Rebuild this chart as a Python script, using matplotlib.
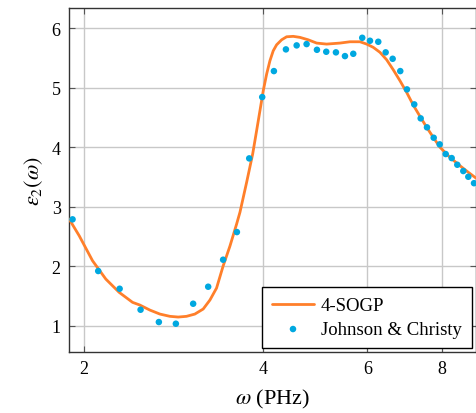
import matplotlib
matplotlib.use("Agg")
import matplotlib.pyplot as plt
from matplotlib.ticker import FixedLocator, FixedFormatter, NullLocator

plt.rcParams['font.family'] = ['Liberation Serif', 'DejaVu Serif']
plt.rcParams['mathtext.fontset'] = 'stix'

# Johnson & Christy data (omega in PHz, eps2)
jc_omega = [1.912, 2.112, 2.295, 2.489, 2.672, 2.854, 3.052, 3.235, 3.428, 3.616,
            3.793, 3.989, 4.174, 4.373, 4.559, 4.738, 4.932, 5.113, 5.309, 5.498,
            5.678, 5.879, 6.058, 6.256, 6.438, 6.615, 6.813, 6.992, 7.193, 7.374,
            7.557, 7.756, 7.938, 8.125, 8.316, 8.499, 8.699, 8.870, 9.068]
jc_eps2 = [2.789, 1.920, 1.622, 1.269, 1.062, 1.034, 1.370, 1.656, 2.110, 2.575,
           3.814, 4.845, 5.282, 5.647, 5.714, 5.736, 5.640, 5.607, 5.597, 5.534,
           5.573, 5.842, 5.792, 5.775, 5.597, 5.489, 5.282, 4.974, 4.722, 4.487,
           4.336, 4.161, 4.050, 3.887, 3.819, 3.707, 3.601, 3.505, 3.397]

# 4-SOGP fit curve
fit_omega = [1.887, 1.962, 2.066, 2.175, 2.291, 2.413, 2.482, 2.581, 2.683, 2.789,
             2.880, 2.974, 3.072, 3.173, 3.257, 3.342, 3.428, 3.520, 3.612, 3.659,
             3.755, 3.844, 3.903, 3.954, 4.005, 4.058, 4.110, 4.163, 4.218, 4.301,
             4.385, 4.499, 4.617, 4.768, 4.926, 5.121, 5.392, 5.606, 5.828, 5.981,
             6.136, 6.298, 6.463, 6.630, 6.806, 6.984, 7.165, 7.354, 7.548, 7.744,
             7.948, 8.262, 8.588, 8.860, 9.138]
fit_eps2 = [2.794, 2.513, 2.093, 1.785, 1.561, 1.393, 1.348, 1.263, 1.196, 1.158,
            1.146, 1.158, 1.196, 1.281, 1.432, 1.634, 2.004, 2.340, 2.710, 2.907,
            3.411, 3.887, 4.278, 4.615, 4.951, 5.232, 5.455, 5.623, 5.724, 5.808,
            5.859, 5.866, 5.849, 5.808, 5.753, 5.736, 5.753, 5.775, 5.775, 5.736,
            5.681, 5.597, 5.472, 5.304, 5.119, 4.924, 4.710, 4.521, 4.336, 4.167,
            4.000, 3.831, 3.690, 3.584, 3.483]

x_ticks = [2, 4, 6, 8]
y_ticks = [1, 2, 3, 4, 5, 6]

fig = plt.figure(figsize=(4.77, 4.14), dpi=100)
ax = fig.add_axes([0.1447, 0.1473, 0.8533, 0.8307])

ax.plot(fit_omega, fit_eps2, color='#ff7f2a', lw=2.0, label='4-SOGP', zorder=3,
        solid_joinstyle='round', solid_capstyle='round')
ax.scatter(jc_omega, jc_eps2, s=22, color='#00a8e0', edgecolors='none',
           label='Johnson & Christy', zorder=4)

ax.set_xscale('log')
ax.set_xlim(1.886, 9.14)
ax.set_ylim(0.558, 6.341)
ax.xaxis.set_major_locator(FixedLocator(x_ticks))
ax.xaxis.set_major_formatter(FixedFormatter([str(t) for t in x_ticks]))
ax.xaxis.set_minor_locator(NullLocator())
ax.set_yticks(y_ticks)

ax.grid(True, color='#c8c8c8', lw=1.0, zorder=0)
ax.set_axisbelow(True)
ax.tick_params(direction='in', length=4, width=0.8, color='#555555',
               top=True, right=True, labelsize=13, pad=6)
for s in ax.spines.values():
    s.set_color('#333333')
    s.set_linewidth(1.0)

ax.set_xlabel(r'$\omega$ (PHz)', fontsize=16, labelpad=7)
ax.set_ylabel(r'$\varepsilon_2(\omega)$', fontsize=16, labelpad=5)

leg = ax.legend(loc='lower right', fontsize=13.5, frameon=True, fancybox=False,
                edgecolor='black', framealpha=1, borderaxespad=0.2,
                handlelength=2.2, handletextpad=0.4, borderpad=0.55,
                labelspacing=0.35, scatterpoints=1)
leg.get_frame().set_linewidth(1.0)

fig.savefig('out.png', dpi=100)
